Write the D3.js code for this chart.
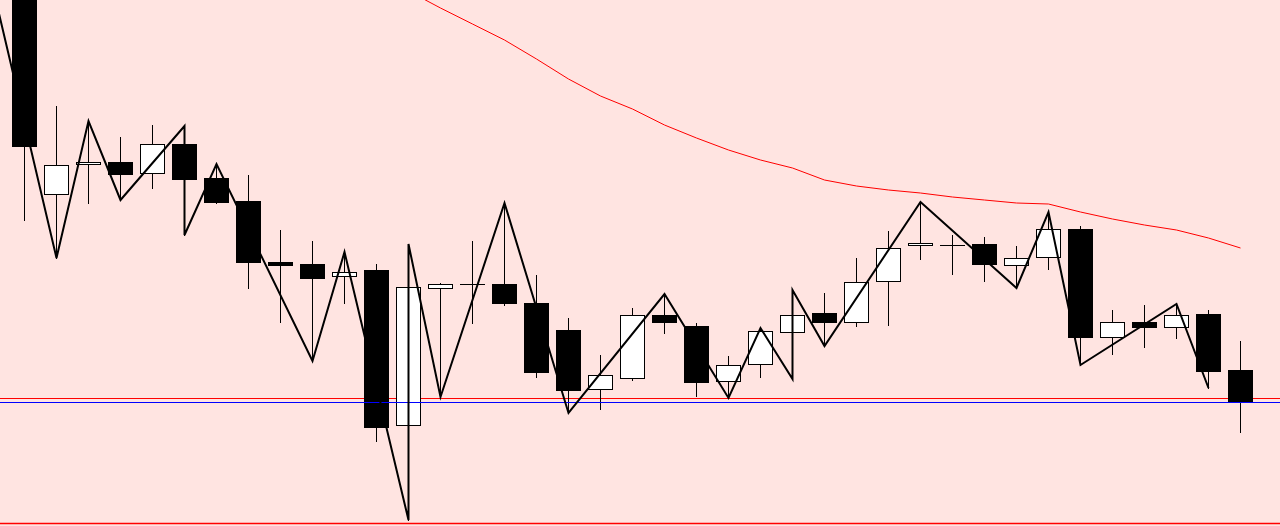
<!DOCTYPE html>
<html>
<head>
<meta charset="utf-8">
<script src="https://cdn.jsdelivr.net/npm/d3@7"></script>
<style>
  body { margin: 0; padding: 0; background: #ffe4e1; overflow: hidden; }
</style>
</head>
<body>
<div id="chart"></div>
<script>
// candles, one entry per bar (index 0..38)
var opens  = [1040, 806, 836, 838, 827, 856, 822, 799, 738, 736, 724, 730, 575, 712, 716, 716, 697, 670, 611, 622,
              685, 674, 619, 636, 668, 687, 678, 719, 755, 755, 756, 735, 743, 771, 663, 678, 673, 686, 630];
var highs  = [1050, 894, 879, 863, 875, 874, 836, 825, 770, 759, 748, 736, 756, 717, 759, 797, 725, 682, 645, 692,
              706, 677, 644, 672, 710, 707, 742, 769, 798, 765, 763, 754, 788, 774, 690, 695, 696, 690, 659];
var lows   = [780, 742, 797, 800, 812, 765, 797, 712, 678, 639, 697, 559, 480, 603, 677, 695, 623, 587, 591, 620,
              667, 604, 602, 623, 621, 654, 674, 675, 741, 726, 719, 712, 731, 635, 646, 653, 662, 612, 568];
var closes = [854, 835, 838, 826, 856, 821, 798, 738, 735, 722, 728, 573, 713, 716, 716, 697, 628, 610, 625, 685,
              678, 618, 635, 669, 685, 678, 718, 752, 757, 755, 736, 742, 771, 663, 678, 673, 685, 629, 598];

// zigzag turning points: bar index and price
var zzIndex = [-1, 1, 2, 3, 5, 5, 6, 9, 10, 12, 12, 13, 15, 17, 20, 22, 23, 24, 24, 25, 28, 31, 32, 33, 36, 37];
var zzPrice = [1014, 742, 879, 800, 874, 765, 836, 639, 748, 480, 756, 603, 797, 587, 706, 602, 672, 621, 710, 654,
               798, 712, 788, 635, 696, 612];

// moving average, starts at bar 12
var maStart = 12;
var maValues = [1009, 992, 976, 960, 941, 921, 904, 891, 875, 862, 850, 840, 832, 820, 814, 810, 807, 803, 800, 797,
                796, 788, 781, 775, 770, 762, 752];

// horizontal levels
var levelRed = 602;
var levelBlue = 598;
var levelBottom = 477;

var width = 1280,
    height = 526;

var svg = d3.select("#chart")
  .append("svg")
    .attr("width", width)
    .attr("height", height)
    .style("display", "block");

svg.append("rect")
  .attr("width", width)
  .attr("height", height)
  .attr("fill", "#ffe4e1");

var x = d3.scaleLinear()
  .domain([0, 1])
  .range([24.5, 56.5]);

var y = d3.scaleLinear()
  .domain([474, 1000])
  .range([526, 0]);

function py(v) { return Math.round(y(v)) + 0.5; }

var bars = d3.range(opens.length).map(function (i) {
  return {i: i, o: opens[i], h: highs[i], l: lows[i], c: closes[i]};
});

// red level sits under the candles
svg.append("line")
  .attr("x1", 0).attr("x2", width)
  .attr("y1", py(levelRed)).attr("y2", py(levelRed))
  .style("stroke", "#ff0000")
  .style("stroke-width", 1);

// wicks
svg.selectAll(".wick")
  .data(bars)
  .enter().append("line")
    .attr("class", "wick")
    .attr("x1", function (d) { return x(d.i); })
    .attr("x2", function (d) { return x(d.i); })
    .attr("y1", function (d) { return py(d.h) - 0.5; })
    .attr("y2", function (d) { return py(d.l) + 0.5; })
    .style("stroke", "black")
    .style("stroke-width", 1);

// bodies
svg.selectAll(".body")
  .data(bars.filter(function (d) { return d.o != d.c; }))
  .enter().append("rect")
    .attr("class", "body")
    .attr("x", function (d) { return x(d.i) - 12; })
    .attr("y", function (d) { return py(Math.max(d.o, d.c)); })
    .attr("width", 24)
    .attr("height", function (d) { return py(Math.min(d.o, d.c)) - py(Math.max(d.o, d.c)); })
    .attr("fill", function (d) { return d.c > d.o ? "white" : "black"; })
    .style("stroke", "black")
    .style("stroke-width", 1);

// dojis
svg.selectAll(".doji")
  .data(bars.filter(function (d) { return d.o == d.c; }))
  .enter().append("line")
    .attr("class", "doji")
    .attr("x1", function (d) { return x(d.i) - 12.5; })
    .attr("x2", function (d) { return x(d.i) + 12.5; })
    .attr("y1", function (d) { return py(d.o); })
    .attr("y2", function (d) { return py(d.o); })
    .style("stroke", "black")
    .style("stroke-width", 1);

// blue level over the candles
svg.append("line")
  .attr("x1", 0).attr("x2", width)
  .attr("y1", py(levelBlue)).attr("y2", py(levelBlue))
  .style("stroke", "#0000ff")
  .style("stroke-width", 1);

// zigzag
var zz = zzIndex.map(function (d, k) { return [x(d), y(zzPrice[k])]; });
svg.append("path")
  .attr("d", d3.line()(zz))
  .attr("fill", "none")
  .style("stroke", "black")
  .style("stroke-width", 2)
  .style("stroke-linejoin", "miter");

// moving average
var ma = maValues.map(function (v, k) { return [x(maStart + k), y(v)]; });
svg.append("path")
  .attr("d", d3.line()(ma))
  .attr("fill", "none")
  .style("stroke", "#ff0000")
  .style("stroke-width", 1);

// bottom line
svg.append("line")
  .attr("x1", 0).attr("x2", width)
  .attr("y1", py(levelBottom)).attr("y2", py(levelBottom))
  .style("stroke", "#ff0000")
  .style("stroke-width", 1.3);
</script>
</body>
</html>
